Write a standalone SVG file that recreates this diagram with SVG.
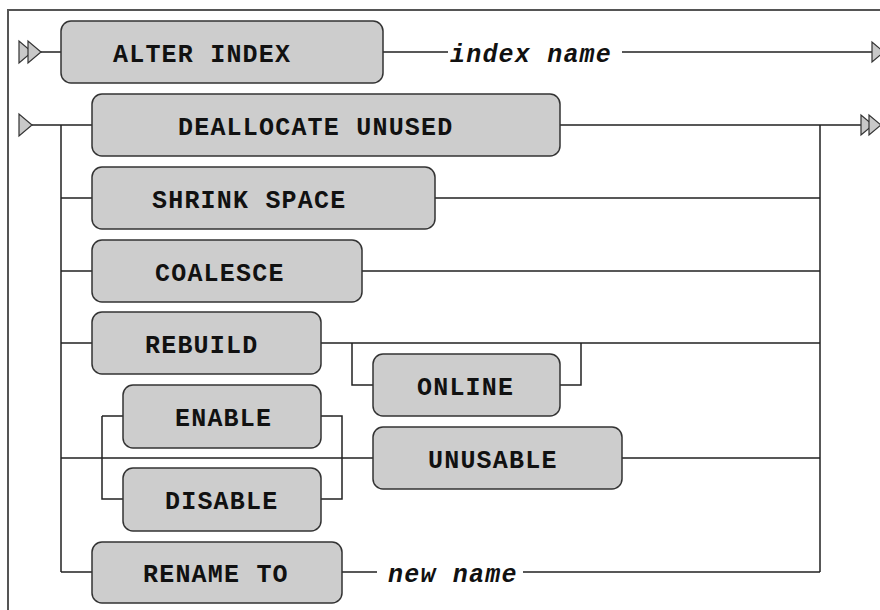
<svg xmlns="http://www.w3.org/2000/svg" width="880" height="610" viewBox="0 0 880 610">
<style>
.frame{fill:none;stroke:#555;stroke-width:2}
.ln{fill:none;stroke:#222;stroke-width:1.5}
.box{fill:#cdcdcd;stroke:#333;stroke-width:1.5}
.tri{fill:#c8c8c8;stroke:#333;stroke-width:1.2}
.kw{font-family:"Courier New","Liberation Mono",monospace;font-weight:bold;font-size:25px;letter-spacing:1.2px;fill:#111}
.id{font-family:"Courier New","Liberation Mono",monospace;font-weight:bold;font-style:italic;font-size:25px;letter-spacing:1.2px;fill:#111}
</style>
<rect width="880" height="610" fill="#fff"/>
<path class="frame" d="M8,610 V10 H880"/>
<g id="connectors">
<polygon class="tri" points="19,41 19,63 32,52"/>
<polygon class="tri" points="28,41 28,63 41,52"/>
<path class="ln" d="M41,52 H61 M383,52 H448 M622,52 H872"/>
<polygon class="tri" points="872,42 872,62 884,52"/>
<polygon class="tri" points="19,114 19,136 32,125"/>
<path class="ln" d="M32,125 H92 M560,125 H861"/>
<polygon class="tri" points="861,115 861,135 873,125"/>
<polygon class="tri" points="869,115 869,135 881,125"/>
<path class="ln" d="M61,125 V572 M820,125 V572"/>
<path class="ln" d="M61,198 H92 M435,198 H820"/>
<path class="ln" d="M61,271 H92 M362,271 H820"/>
<path class="ln" d="M61,343 H92 M321,343 H820"/>
<path class="ln" d="M352,343 V385 H373 M560,385 H581 V343"/>
<path class="ln" d="M61,458 H373 M622,458 H820"/>
<path class="ln" d="M102,416 H123 M102,416 V499 H123 M321,416 H342 V499 H321"/>
<path class="ln" d="M61,572 H92 M342,572 H377 M523,572 H820"/>
</g>
<g id="alter-index"><rect class="box" x="61" y="21" width="322" height="62" rx="10"/><text class="kw" x="113" y="62">ALTER INDEX</text></g>
<g id="index-name"><text class="id" x="450" y="62">index name</text></g>
<g id="deallocate-unused"><rect class="box" x="92" y="94" width="468" height="62" rx="10"/><text class="kw" x="178" y="135">DEALLOCATE UNUSED</text></g>
<g id="shrink-space"><rect class="box" x="92" y="167" width="343" height="62" rx="10"/><text class="kw" x="152" y="208">SHRINK SPACE</text></g>
<g id="coalesce"><rect class="box" x="92" y="240" width="270" height="62" rx="10"/><text class="kw" x="155" y="281">COALESCE</text></g>
<g id="rebuild"><rect class="box" x="92" y="312" width="229" height="62" rx="10"/><text class="kw" x="145" y="353">REBUILD</text></g>
<g id="online"><rect class="box" x="373" y="354" width="187" height="62" rx="10"/><text class="kw" x="417" y="395">ONLINE</text></g>
<g id="enable"><rect class="box" x="123" y="385" width="198" height="63" rx="10"/><text class="kw" x="175" y="426">ENABLE</text></g>
<g id="unusable"><rect class="box" x="373" y="427" width="249" height="62" rx="10"/><text class="kw" x="428" y="468">UNUSABLE</text></g>
<g id="disable"><rect class="box" x="123" y="468" width="198" height="63" rx="10"/><text class="kw" x="165" y="509">DISABLE</text></g>
<g id="rename-to"><rect class="box" x="92" y="542" width="250" height="61" rx="10"/><text class="kw" x="143" y="582">RENAME TO</text></g>
<g id="new-name"><text class="id" x="388" y="582">new name</text></g>
</svg>
